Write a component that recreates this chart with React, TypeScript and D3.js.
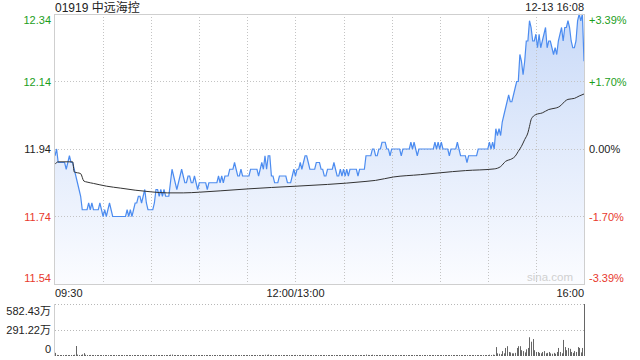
import React from "react";
import * as d3 from "d3";

const title = "01919 中远海控";
const stamp = "12-13 16:08";
const prevClose = 11.94;

const priceTicks = [12.34, 12.14, 11.94, 11.74, 11.54];
const pctLabels = ["+3.39%", "+1.70%", "0.00%", "-1.70%", "-3.39%"];
const timeLabels = ["09:30", "12:00/13:00", "16:00"];
const timeLabelIdx = [0, 150, 330];
const volMax = 582.43;
const volLabels = ["582.43万", "291.22万", "0"];

const prices = [
  11.92, 11.94, 11.90, 11.90, 11.90, 11.90, 11.90, 11.88, 11.90, 11.92,
  11.90, 11.90, 11.88, 11.86, 11.84, 11.82, 11.80, 11.76, 11.76, 11.76,
  11.76, 11.78, 11.76, 11.78, 11.76, 11.76, 11.76, 11.76, 11.78, 11.76,
  11.74, 11.76, 11.74, 11.76, 11.78, 11.76, 11.74, 11.74, 11.74, 11.74,
  11.74, 11.74, 11.74, 11.74, 11.74, 11.76, 11.74, 11.76, 11.74, 11.76,
  11.78, 11.78, 11.80, 11.80, 11.78, 11.80, 11.82, 11.78, 11.76, 11.76,
  11.76, 11.76, 11.78, 11.82, 11.82, 11.80, 11.82, 11.80, 11.82, 11.80,
  11.80, 11.80, 11.84, 11.88, 11.86, 11.84, 11.82, 11.84, 11.86, 11.88,
  11.86, 11.84, 11.84, 11.86, 11.86, 11.84, 11.84, 11.86, 11.84, 11.82,
  11.84, 11.84, 11.84, 11.84, 11.84, 11.82, 11.84, 11.84, 11.84, 11.84,
  11.84, 11.84, 11.86, 11.84, 11.86, 11.84, 11.86, 11.86, 11.86, 11.88,
  11.88, 11.88, 11.90, 11.88, 11.86, 11.86, 11.88, 11.86, 11.86, 11.86,
  11.86, 11.86, 11.88, 11.88, 11.88, 11.88, 11.88, 11.86, 11.88, 11.90,
  11.88, 11.92, 11.88, 11.92, 11.92, 11.86, 11.86, 11.84, 11.84, 11.84,
  11.86, 11.86, 11.86, 11.86, 11.86, 11.84, 11.84, 11.84, 11.86, 11.88,
  11.86, 11.88, 11.88, 11.90, 11.88, 11.90, 11.92, 11.92, 11.90, 11.88,
  11.88, 11.88, 11.88, 11.90, 11.90, 11.90, 11.88, 11.88, 11.86, 11.86,
  11.88, 11.88, 11.88, 11.88, 11.90, 11.88, 11.86, 11.86, 11.88, 11.86,
  11.88, 11.86, 11.88, 11.86, 11.88, 11.88, 11.88, 11.88, 11.88, 11.86,
  11.88, 11.88, 11.88, 11.88, 11.92, 11.92, 11.92, 11.92, 11.94, 11.94,
  11.92, 11.92, 11.94, 11.94, 11.96, 11.96, 11.96, 11.94, 11.94, 11.92,
  11.94, 11.94, 11.94, 11.94, 11.94, 11.94, 11.92, 11.94, 11.94, 11.94,
  11.94, 11.94, 11.96, 11.94, 11.96, 11.94, 11.92, 11.94, 11.94, 11.94,
  11.94, 11.94, 11.94, 11.94, 11.94, 11.94, 11.94, 11.96, 11.94, 11.96,
  11.94, 11.96, 11.94, 11.94, 11.94, 11.94, 11.92, 11.94, 11.94, 11.94,
  11.94, 11.96, 11.94, 11.92, 11.92, 11.92, 11.92, 11.90, 11.92, 11.92,
  11.92, 11.92, 11.92, 11.92, 11.94, 11.94, 11.94, 11.94, 11.94, 11.94,
  11.94, 11.96, 11.94, 11.96, 11.94, 12.00, 11.98, 12.00, 11.98, 12.02,
  12.04, 12.06, 12.08, 12.10, 12.08, 12.08, 12.10, 12.12, 12.14, 12.14,
  12.22, 12.20, 12.16, 12.20, 12.26, 12.26, 12.32, 12.30, 12.26, 12.26,
  12.28, 12.24, 12.28, 12.24, 12.26, 12.28, 12.30, 12.24, 12.26, 12.26,
  12.24, 12.22, 12.24, 12.22, 12.26, 12.28, 12.30, 12.26, 12.30, 12.30,
  12.32, 12.30, 12.26, 12.24, 12.24, 12.26, 12.32, 12.34, 12.32, 12.34,
  12.20,
];

const avgIdx = [
  0, 2, 11, 12, 16, 18, 20, 24, 32, 41, 50, 60, 70, 80, 90, 103, 121, 135,
  151, 170, 194, 200, 211, 228, 248, 256, 274, 278, 281, 285, 287, 289, 291,
  293, 295, 296, 297, 298, 300, 304, 308, 312, 314, 316, 318, 320, 324, 327,
  330,
];
const avgVal = [
  11.895, 11.902, 11.902, 11.872, 11.867, 11.845, 11.842, 11.838, 11.83,
  11.824, 11.818, 11.813, 11.81, 11.81, 11.812, 11.816, 11.822, 11.826, 11.83,
  11.835, 11.844, 11.847, 11.857, 11.864, 11.873, 11.876, 11.881, 11.888,
  11.903, 11.911, 11.918, 11.933, 11.948, 11.968, 11.988, 12.007, 12.027,
  12.035, 12.042, 12.047, 12.057, 12.061, 12.064, 12.071, 12.081, 12.087,
  12.09, 12.097, 12.103,
];

const volumes = [
  35, 12, 8, 10, 6, 9, 7, 12, 8, 10,
  7, 9, 14, 112, 16, 10, 12, 18, 32, 14,
  10, 8, 12, 9, 7, 10, 6, 8, 11, 7,
  9, 6, 8, 10, 7, 5, 8, 6, 7, 9,
  5, 7, 6, 8, 5, 9, 6, 7, 5, 8,
  10, 7, 9, 6, 8, 11, 7, 6, 8, 5,
  7, 6, 9, 12, 8, 6, 7, 5, 8, 6,
  7, 9, 14, 16, 10, 8, 6, 9, 11, 8,
  7, 6, 8, 5, 7, 6, 9, 5, 6, 7,
  5, 6, 7, 5, 6, 8, 5, 6, 5, 7,
  6, 5, 7, 6, 8, 5, 6, 7, 9, 11,
  8, 7, 12, 9, 7, 6, 8, 6, 5, 7,
  6, 5, 8, 7, 6, 5, 7, 6, 8, 10,
  8, 14, 12, 16, 10, 9, 7, 8, 6, 5,
  6, 7, 5, 6, 5, 7, 6, 5, 8, 9,
  12, 8, 7, 10, 6, 9, 13, 8, 7, 6,
  5, 6, 7, 8, 6, 5, 7, 6, 8, 5,
  6, 7, 5, 6, 9, 6, 7, 5, 6, 7,
  5, 6, 7, 5, 6, 8, 5, 6, 7, 6,
  5, 6, 7, 8, 16, 12, 9, 8, 14, 10,
  8, 7, 10, 9, 12, 10, 8, 7, 6, 8,
  6, 7, 5, 6, 7, 5, 8, 6, 5, 7,
  6, 5, 9, 6, 8, 5, 7, 6, 5, 6,
  5, 6, 5, 7, 5, 6, 5, 8, 6, 7,
  5, 7, 6, 5, 6, 5, 8, 6, 5, 6,
  5, 8, 6, 7, 6, 5, 6, 9, 7, 6,
  5, 6, 5, 7, 9, 6, 7, 8, 6, 10,
  8, 14, 10, 15, 12, 100, 30, 25, 20, 55,
  30, 90, 110, 45, 40, 30, 30, 35, 90, 110,
  110, 65, 55, 40, 75, 90, 210, 160, 190, 65,
  45, 45, 35, 30, 45, 55, 30, 35, 45, 30,
  25, 35, 25, 45, 90, 45, 30, 180, 100, 65,
  90, 80, 45, 35, 55, 45, 100, 90, 40, 90, 582.43,
];

const W = 640;
const H = 360;
const L = 55;
const R = 584;
const T = 14;
const B = 284;
const VT = 304;
const VB = 356;

const FONT = "'Liberation Sans', Arial, 'Noto Sans CJK SC', sans-serif";
const GREEN = "#1c9e1c";
const RED = "#e8392d";
const DARK = "#222";

export default function App() {
  const x = d3.scaleLinear().domain([0, 330]).range([L, R]);
  const y = d3.scaleLinear().domain([11.54, 12.34]).range([B, T]);
  const yv = d3.scaleLinear().domain([0, volMax]).range([VB, VT]);

  const line = d3
    .line<number>()
    .x((_, i) => x(i))
    .y((d) => y(d));
  const area = d3
    .area<number>()
    .x((_, i) => x(i))
    .y0(B)
    .y1((d) => y(d));
  const avgLine = d3
    .line<number>()
    .x((_, i) => x(avgIdx[i]))
    .y((d) => y(d))
    .curve(d3.curveMonotoneX);

  const colorFor = (v: number) =>
    Math.abs(v - prevClose) < 1e-6 ? DARK : v > prevClose ? GREEN : RED;

  const vGrid = d3.range(30, 330, 30);
  const labelY = (i: number) => {
    const yy = y(priceTicks[i]);
    if (i === 0) return yy + 10;
    if (i === priceTicks.length - 1) return yy - 2;
    return yy + 4;
  };

  return (
    <svg
      width={W}
      height={H}
      style={{ position: "absolute", left: 0, top: 0, background: "#fff" }}
      fontFamily={FONT}
    >
      <defs>
        <linearGradient id="fillg" gradientUnits="userSpaceOnUse" x1="0" y1={T} x2="0" y2={B}>
          <stop offset="0" stopColor="#c9daf8" />
          <stop offset="1" stopColor="#fbfcff" />
        </linearGradient>
      </defs>

      <path d={area(prices) || ""} fill="url(#fillg)" />

      {priceTicks.slice(1, -1).map((p) => (
        <line
          key={"h" + p}
          x1={L}
          x2={R}
          y1={Math.round(y(p)) + 0.5}
          y2={Math.round(y(p)) + 0.5}
          stroke="#c4c4c4"
          strokeDasharray="1,2"
        />
      ))}
      {vGrid.map((i) => (
        <line
          key={"v" + i}
          x1={Math.round(x(i)) + 0.5}
          x2={Math.round(x(i)) + 0.5}
          y1={T}
          y2={B}
          stroke="#c4c4c4"
          strokeDasharray="1,2"
        />
      ))}

      <path d={line(prices) || ""} fill="none" stroke="#4c8cf0" strokeWidth={1.2} />
      <path d={avgLine(avgVal) || ""} fill="none" stroke="#333" strokeWidth={1} />

      <rect x={L - 0.5} y={T + 0.5} width={R - L + 1} height={B - T} fill="none" stroke="#cfcfcf" />

      <text x={R - 11} y={281} fontSize={11.5} fill="#d0d0d0" textAnchor="end">
        sina.com
      </text>

      <text x={L} y={11.5} fontSize={12} fill={DARK}>
        {title}
      </text>
      <text x={R} y={11} fontSize={11} fill={DARK} textAnchor="end">
        {stamp}
      </text>

      {priceTicks.map((p, i) => (
        <text key={"l" + p} x={51} y={labelY(i)} fontSize={11} fill={colorFor(p)} textAnchor="end">
          {p.toFixed(2)}
        </text>
      ))}
      {pctLabels.map((s, i) => (
        <text key={"r" + s} x={589} y={labelY(i)} fontSize={11} fill={colorFor(priceTicks[i])}>
          {s}
        </text>
      ))}

      {timeLabels.map((s, i) => (
        <text
          key={"t" + s}
          x={x(timeLabelIdx[i])}
          y={297}
          fontSize={11}
          fill={DARK}
          textAnchor={i === 0 ? "start" : i === timeLabels.length - 1 ? "end" : "middle"}
        >
          {s}
        </text>
      ))}

      {[volMax, volMax / 2].map((v) => (
        <line
          key={"vg" + v}
          x1={L}
          x2={R}
          y1={Math.round(yv(v)) + 0.5}
          y2={Math.round(yv(v)) + 0.5}
          stroke="#b8b8b8"
          strokeDasharray="1,2"
        />
      ))}
      <line x1={L - 0.5} x2={L - 0.5} y1={VT} y2={VB} stroke="#cfcfcf" />

      {volumes.map((v, i) => {
        const top = Math.min(yv(v), VB - 1);
        return (
          <rect
            key={"b" + i}
            x={Math.round(x(i))}
            y={top}
            width={1}
            height={VB - top}
            fill="#666"
          />
        );
      })}

      {volLabels.map((s, i) => (
        <text
          key={"vl" + s}
          x={51}
          y={[315, 334, 352.5][i]}
          fontSize={11}
          fill={DARK}
          textAnchor="end"
        >
          {s}
        </text>
      ))}
    </svg>
  );
}
